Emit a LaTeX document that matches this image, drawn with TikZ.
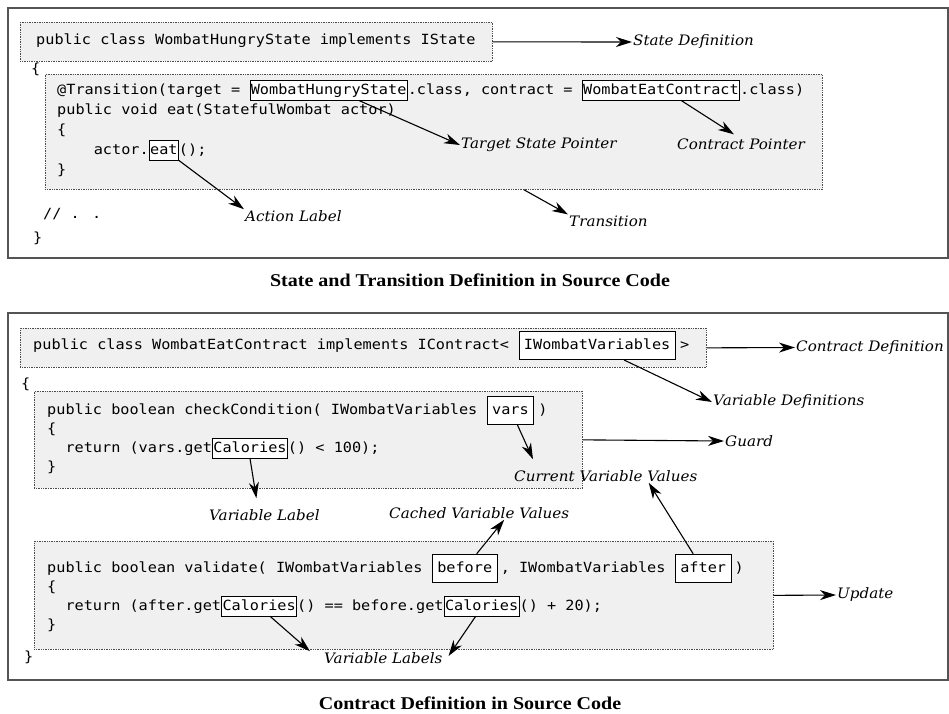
\documentclass[tikz,border=0pt]{standalone}
\usepackage{fontspec}
\newfontfamily\codefont{DejaVu Sans Mono}[FakeStretch=1.086]
\newfontfamily\notefont{DejaVu Serif}[FakeStretch=1.05]
\newfontfamily\capfont{Liberation Serif}[FakeStretch=1.113]
\usetikzlibrary{positioning,arrows.meta}

\begin{document}
\begin{tikzpicture}
    [x=1pt, y=-1pt,
    Frame/.style={draw=black!67, line width=1.6pt},
    CodeBlock/.style={draw=black!70, densely dotted, line width=0.7pt, fill=black!6, inner sep=0pt, anchor=north west},
    CodeLine/.style={font=\codefont\fontsize{14}{17}\selectfont, inner sep=0pt},
    MarkBox/.style={CodeLine, draw, fill=white, line width=0.8pt, inner xsep=0.8pt, inner ysep=2.3pt, text height=11pt, text depth=3.5pt},
    PadBox/.style={MarkBox, inner xsep=5pt, inner ysep=7pt},
    NoteLabel/.style={font=\notefont\itshape\fontsize{14.4}{17}\selectfont, inner sep=1pt, anchor=west},
    Caption/.style={font=\capfont\bfseries\fontsize{18}{20}\selectfont},
    Pointer/.style={-{Stealth[length=16pt, width=10pt, inset=5pt]}, line width=1.1pt}]
    \useasboundingbox (0,0) rectangle (949,713);

    % state and transition
    \draw[Frame] (8,8) rectangle (948,258);
    \node[CodeBlock, minimum width=472, minimum height=39] (sdef) at (20,22) {};
    \node[CodeLine, anchor=mid west] (s1) at (36,42) {public class WombatHungryState implements IState};
    \node[CodeLine, anchor=mid west] (ob1) at (31,71) {\{};
    \node[CodeBlock, minimum width=777, minimum height=115] (sbody) at (45,74) {};
    \node[CodeLine, anchor=mid west] (t1) at (57,92) {@Transition(target =\ \null};
    \node[MarkBox, base right=0pt of t1] (whs) {WombatHungryState};
    \node[CodeLine, base right=0pt of whs] (t2) {.class, contract =\ \null};
    \node[MarkBox, base right=0pt of t2] (wec) {WombatEatContract};
    \node[CodeLine, base right=0pt of wec] (t3) {.class)};
    \node[CodeLine, anchor=mid west] (t4) at (57,112) {public void eat(StatefulWombat actor)};
    \node[CodeLine, anchor=mid west] (t5) at (57,132) {\{};
    \node[CodeLine, anchor=mid west] (t6) at (57,152) {\ \ \ \ actor.};
    \node[MarkBox, base right=0pt of t6] (eat) {eat};
    \node[CodeLine, base right=0pt of eat] (t7) {();};
    \node[CodeLine, anchor=mid west] (t8) at (57,172) {\}};
    \node[CodeLine, anchor=mid west] (etc) at (43,216) {// . .};
    \node[CodeLine, anchor=mid west] (cb1) at (33,240) {\}};

    \node[NoteLabel] (sdl) at (632,42) {State Definition};
    \node[NoteLabel] (tsp) at (460,145) {Target State Pointer};
    \node[NoteLabel] (cpl) at (676,144) {Contract Pointer};
    \node[NoteLabel] (act) at (244,216) {Action Label};
    \node[NoteLabel] (trl) at (568,221) {Transition};
    \draw[Pointer] (sdef.east) -- (sdl.west);
    \draw[Pointer] ([xshift=30pt]whs.south) -- (tsp.west);
    \draw[Pointer] ([xshift=20pt]wec.south) -- ([xshift=-7pt, yshift=3pt]cpl.north);
    \draw[Pointer] (eat.south east) -- (act.north west);
    \draw[Pointer] ([xshift=90pt]sbody.south) -- (trl.north west);

    \node[Caption] (cap1) at (470,280) {State and Transition Definition in Source Code};

    % contract
    \draw[Frame] (8,313) rectangle (948,680);
    \node[CodeBlock, minimum width=686, minimum height=39] (cdef) at (20,328) {};
    \node[CodeLine, anchor=mid west] (c1) at (33,347) {public class WombatEatContract implements IContract<\ \null};
    \node[PadBox, base right=0pt of c1] (ivars) {IWombatVariables};
    \node[CodeLine, base right=4pt of ivars] (c2) {>};
    \node[CodeLine, anchor=mid west] (ob2) at (21,386) {\{};

    \node[CodeBlock, minimum width=548, minimum height=97] (guard) at (34,391) {};
    \node[CodeLine, anchor=mid west] (g1) at (47,412) {public boolean checkCondition( IWombatVariables\ \null};
    \node[PadBox, base right=0pt of g1] (vars) {vars};
    \node[CodeLine, base right=4pt of vars] (g2) {)};
    \node[CodeLine, anchor=mid west] (g3) at (47,431) {\{};
    \node[CodeLine, anchor=mid west] (g4) at (47,450) {\ \ return (vars.get};
    \node[MarkBox, base right=0pt of g4] (cal0) {Calories};
    \node[CodeLine, base right=0pt of cal0] (g5) {() < 100);};
    \node[CodeLine, anchor=mid west] (g6) at (47,469) {\}};

    \node[CodeBlock, minimum width=739, minimum height=108] (upd) at (34,541) {};
    \node[CodeLine, anchor=mid west] (u1) at (47,570) {public boolean validate( IWombatVariables\ \null};
    \node[PadBox, base right=0pt of u1] (bef) {before};
    \node[CodeLine, base right=3pt of bef] (u2) {, IWombatVariables\ \null};
    \node[PadBox, base right=0pt of u2] (aft) {after};
    \node[CodeLine, base right=3pt of aft] (u3) {)};
    \node[CodeLine, anchor=mid west] (u4) at (47,589) {\{};
    \node[CodeLine, anchor=mid west] (u5) at (47,608) {\ \ return (after.get};
    \node[MarkBox, base right=0pt of u5] (cal1) {Calories};
    \node[CodeLine, base right=0pt of cal1] (u6) {() == before.get};
    \node[MarkBox, base right=0pt of u6] (cal2) {Calories};
    \node[CodeLine, base right=0pt of cal2] (u7) {() + 20);};
    \node[CodeLine, anchor=mid west] (u8) at (47,627) {\}};
    \node[CodeLine, anchor=mid west] (cb2) at (24,659) {\}};

    \node[NoteLabel] (cdl) at (795,347.5) {Contract Definition};
    \node[NoteLabel] (vdl) at (712,402) {Variable Definitions};
    \node[NoteLabel] (gdl) at (724,441) {Guard};
    \node[NoteLabel] (cvv) at (513,476) {Current Variable Values};
    \node[NoteLabel] (vl) at (208,515) {Variable Label};
    \node[NoteLabel] (cached) at (388,513) {Cached Variable Values};
    \node[NoteLabel] (updl) at (836,595) {Update};
    \node[NoteLabel] (vls) at (323,658) {Variable Labels};
    \draw[Pointer] (cdef.east) -- (cdl.west);
    \draw[Pointer] ([xshift=27pt]ivars.south) -- (vdl.west);
    \draw[Pointer] (guard.east) -- (gdl.west);
    \draw[Pointer] ([xshift=7pt]vars.south) -- ([xshift=20pt, yshift=10pt]cvv.north west);
    \draw[Pointer] (cal0.south) -- ([xshift=-8pt, yshift=10pt]vl.north);
    \draw[Pointer] ([xshift=12pt]bef.north) -- ([xshift=25pt]cached.south);
    \draw[Pointer] ([xshift=-10pt]aft.north) -- ([xshift=43pt]cvv.south);
    \draw[Pointer] (upd.east) -- (updl.west);
    \draw[Pointer] ([xshift=11pt]cal1.south) -- ([xshift=-13pt]vls.north west);
    \draw[Pointer] ([xshift=-6pt]cal2.south) -- ([xshift=5pt, yshift=2pt]vls.east);

    \node[Caption] (cap2) at (470,703) {Contract Definition in Source Code};
\end{tikzpicture}
\end{document}
